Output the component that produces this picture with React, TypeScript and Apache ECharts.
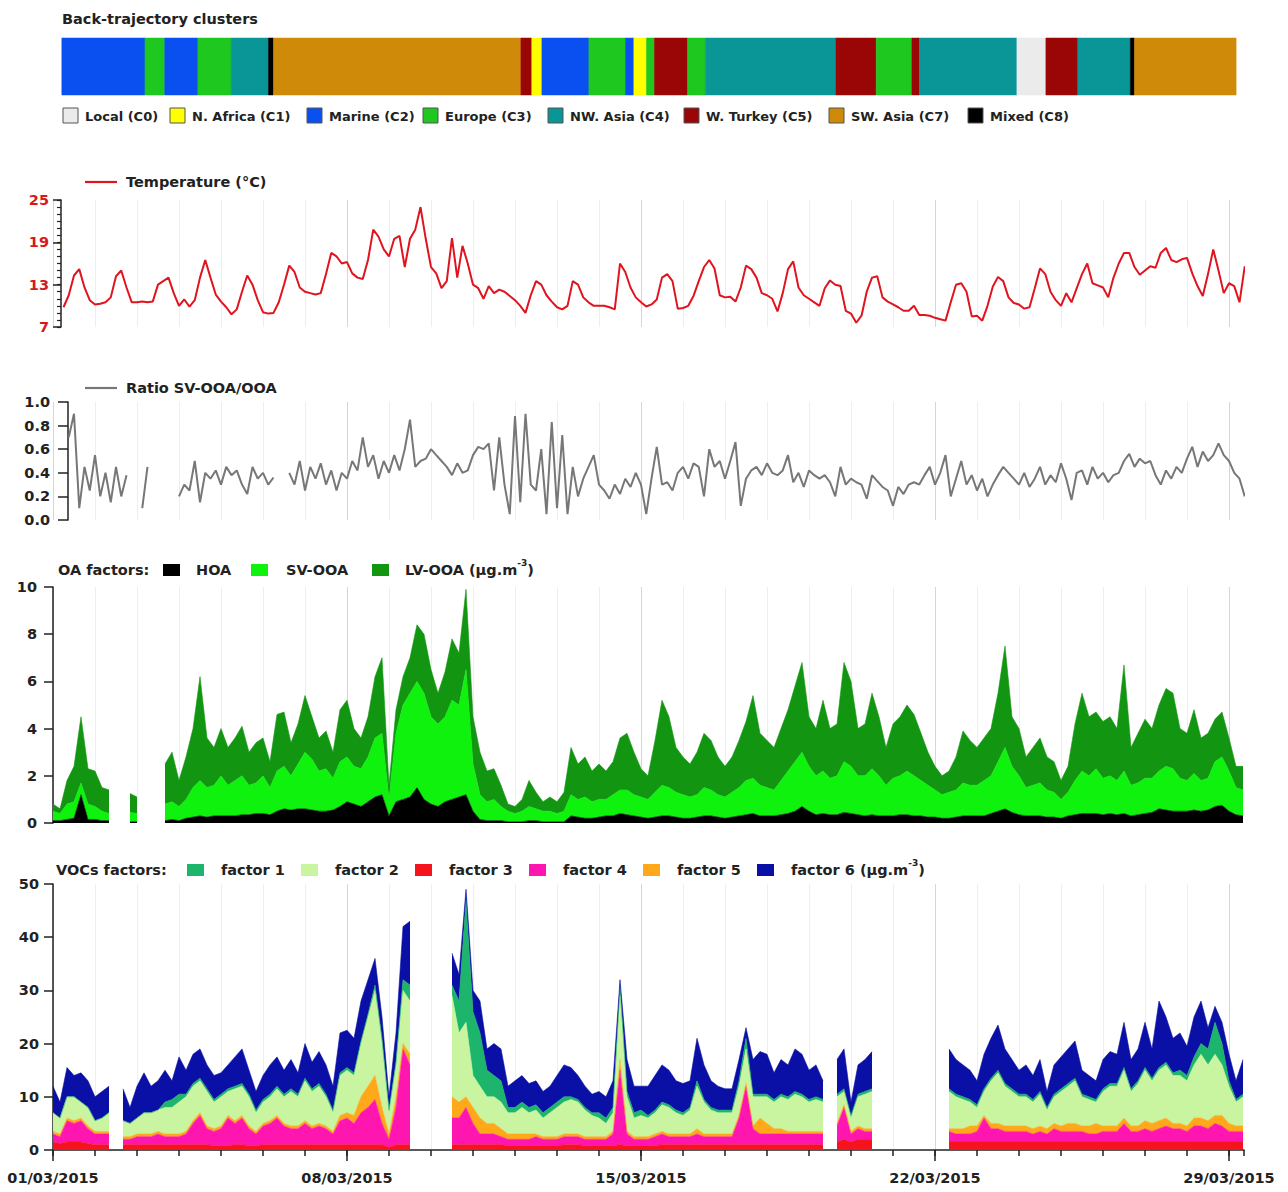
import React, { useEffect, useRef } from 'react';
import * as echarts from 'echarts';

const FONT = 'DejaVu Sans';
const X_MAX = 28.357;
const DAY_MS = 86400000;
const T0_MS = Date.UTC(2015, 2, 1);

// ---- x axis tick labels (every 7 days from 01/03/2015)
const xTickLabels = ['01/03/2015', '08/03/2015', '15/03/2015', '22/03/2015', '29/03/2015'];
const weekTicks = [0, 7, 14, 21, 28];
const tempTicks = [7, 13, 19, 25];

// ---- back-trajectory clusters
const clusterNames = ['Local (C0)', 'N. Africa (C1)', 'Marine (C2)', 'Europe (C3)', 'NW. Asia (C4)', 'W. Turkey (C5)', 'SW. Asia (C7)', 'Mixed (C8)'];
const clusterColors = ['#ebebeb', '#ffff00', '#0a50f0', '#1ec81e', '#0a9696', '#9a0606', '#d08a0a', '#000000'];
const segStart = [0.21, 2.19, 2.66, 3.45, 4.24, 5.13, 5.25, 11.14, 11.40, 11.64, 12.76, 13.63, 13.83, 14.13, 14.32, 15.11, 15.53, 18.64, 19.60, 20.45, 20.63, 22.95, 23.64, 24.40, 25.65, 25.75];
const segEnd = [2.19, 2.66, 3.45, 4.24, 5.13, 5.25, 11.14, 11.40, 11.64, 12.76, 13.63, 13.83, 14.13, 14.32, 15.11, 15.53, 18.64, 19.60, 20.45, 20.63, 22.95, 23.64, 24.40, 25.65, 25.75, 28.17];
const segCluster = [2, 3, 2, 3, 4, 7, 6, 5, 1, 2, 3, 2, 1, 3, 5, 3, 4, 5, 3, 5, 4, 0, 5, 4, 7, 6];

// ---- temperature and ratio: 3-hourly, starting 0.25 day
const tStart = 0.25;
const tStep = 0.125;
const temperature = [
  9.8, 11.5, 14.3, 15.2, 12.6, 10.8,
  10.2, 10.3, 10.5, 11.2, 14.2, 15.0, 12.6, 10.5,
  10.5, 10.6, 10.5, 10.6, 13.0, 13.5, 14.0, 11.8,
  10.0, 10.9, 9.9, 10.8, 14.0, 16.5, 14.0, 11.6,
  10.6, 9.8, 8.8, 9.5, 12.0, 14.3, 13.0, 10.8,
  9.1, 8.9, 9.0, 10.5, 13.0, 15.7, 14.8, 12.6,
  12.0, 11.8, 11.6, 11.8, 14.5, 17.5, 17.0, 16.0,
  16.2, 14.6, 14.0, 13.8, 16.5, 20.8, 19.8, 18.0,
  17.0, 19.5, 19.9, 15.5, 19.5, 20.8, 24.0, 19.5,
  15.5, 14.6, 12.5, 13.5, 19.6, 14.0, 18.5, 16.0,
  13.0, 12.5, 11.0, 12.8, 11.8, 12.3, 12.0, 11.4,
  10.8, 10.0, 9.0, 11.5, 13.5, 13.0, 11.5, 10.6,
  9.8, 9.5, 10.0, 13.5, 13.0, 11.2, 10.5, 10.0,
  10.0, 10.0, 9.8, 9.5, 16.0, 14.8, 12.6, 11.2,
  10.5, 9.9, 10.2, 10.9, 14.0, 14.5, 13.5, 9.6,
  9.7, 10.0, 11.4, 13.5, 15.5, 16.5, 15.3, 11.5,
  11.2, 11.3, 10.6, 12.6, 15.7, 15.2, 14.0, 11.8,
  11.5, 11.0, 9.2, 11.8, 15.2, 16.3, 12.6, 11.5,
  11.0, 10.5, 10.0, 12.5, 13.6, 13.0, 12.8, 9.3,
  8.9, 7.6, 8.6, 12.0, 14.0, 14.2, 11.2, 10.6,
  10.2, 9.8, 9.3, 9.3, 10.0, 8.7, 8.7, 8.6,
  8.3, 8.1, 7.9, 10.5, 13.0, 13.2, 12.0, 8.5,
  8.6, 7.9, 10.0, 12.7, 14.1, 13.5, 11.2, 10.4,
  10.2, 9.6, 9.8, 12.5, 15.3, 14.5, 12.0, 10.8,
  10.0, 11.8, 10.5, 12.5, 14.5, 16.0, 13.2, 12.9,
  12.6, 11.2, 14.0, 16.0, 17.5, 17.5, 15.5, 14.4,
  15.0, 15.6, 15.4, 17.5, 18.2, 16.5, 16.2, 16.6,
  16.8, 14.6, 12.8, 11.4, 14.5, 18.0, 15.0, 11.8,
  13.2, 12.8, 10.5, 15.6,
];
const ratio = [
  null, 0.7, 0.9, 0.1, 0.45, 0.25,
  0.55, 0.2, 0.4, 0.15, 0.45, 0.2, 0.38, null,
  null, 0.1, 0.45, null, null, null, null, null,
  0.2, 0.3, 0.25, 0.5, 0.15, 0.4, 0.35, 0.42,
  0.3, 0.45, 0.38, 0.42, 0.3, 0.22, 0.45, 0.35,
  0.4, 0.3, 0.36, null, null, 0.4, 0.3, 0.5,
  0.25, 0.45, 0.35, 0.48, 0.3, 0.42, 0.25, 0.4,
  0.35, 0.5, 0.42, 0.7, 0.45, 0.55, 0.35, 0.5,
  0.4, 0.55, 0.42, 0.6, 0.85, 0.45, 0.5, 0.52,
  0.6, 0.55, 0.5, 0.45, 0.38, 0.48, 0.4, 0.42,
  0.55, 0.62, 0.6, 0.65, 0.25, 0.7, 0.3, 0.05,
  0.88, 0.15, 0.9, 0.3, 0.25, 0.6, 0.05, 0.83,
  0.1, 0.72, 0.05, 0.45, 0.2, 0.35, 0.45, 0.55,
  0.3, 0.25, 0.18, 0.3, 0.22, 0.35, 0.28, 0.4,
  0.3, 0.05, 0.35, 0.62, 0.3, 0.32, 0.25, 0.4,
  0.45, 0.35, 0.48, 0.45, 0.2, 0.6, 0.45, 0.5,
  0.35, 0.5, 0.66, 0.12, 0.35, 0.42, 0.45, 0.38,
  0.48, 0.4, 0.38, 0.42, 0.55, 0.32, 0.4, 0.28,
  0.42, 0.38, 0.35, 0.38, 0.32, 0.2, 0.45, 0.3,
  0.35, 0.32, 0.3, 0.18, 0.38, 0.33, 0.28, 0.25,
  0.12, 0.28, 0.22, 0.3, 0.32, 0.3, 0.38, 0.45,
  0.3, 0.4, 0.55, 0.2, 0.35, 0.5, 0.3, 0.38,
  0.25, 0.35, 0.2, 0.3, 0.38, 0.45, 0.4, 0.35,
  0.3, 0.4, 0.28, 0.35, 0.45, 0.3, 0.38, 0.32,
  0.48, 0.35, 0.17, 0.4, 0.42, 0.3, 0.45, 0.35,
  0.4, 0.32, 0.38, 0.4, 0.5, 0.56, 0.45, 0.52,
  0.48, 0.5, 0.38, 0.3, 0.42, 0.35, 0.45, 0.4,
  0.52, 0.62, 0.45, 0.58, 0.5, 0.55, 0.65, 0.55,
  0.5, 0.4, 0.35, 0.2,
];

// ---- OA factors: 4-hourly from day 0
const oaStart = 0;
const oaStep = 1 / 6;
const hoa = [
  0.1, 0.1, 0.15, 0.2, 1.2, 0.15,
  0.15, 0.1, 0.1, null, null, 0.05,
  0.05, null, null, null, 0.1, 0.15,
  0.1, 0.2, 0.25, 0.3, 0.25, 0.3,
  0.3, 0.3, 0.3, 0.35, 0.35, 0.4,
  0.4, 0.35, 0.5, 0.6, 0.55, 0.6,
  0.6, 0.55, 0.5, 0.5, 0.55, 0.7,
  0.9, 0.8, 0.7, 0.9, 1.1, 1.2,
  0.3, 0.9, 1.0, 1.1, 1.5, 1.0,
  0.8, 0.7, 0.9, 1.0, 1.1, 1.2,
  0.5, 0.15, 0.1, 0.1, 0.1, 0.05,
  0.05, 0.05, 0.1, 0.1, 0.05, 0.05,
  0.05, 0.05, 0.3, 0.25, 0.2, 0.2,
  0.25, 0.3, 0.3, 0.4, 0.35, 0.3,
  0.25, 0.2, 0.25, 0.3, 0.3, 0.25,
  0.2, 0.2, 0.25, 0.3, 0.3, 0.25,
  0.2, 0.25, 0.3, 0.35, 0.4, 0.3,
  0.3, 0.3, 0.35, 0.4, 0.5, 0.7,
  0.5, 0.35, 0.4, 0.35, 0.35, 0.45,
  0.4, 0.35, 0.3, 0.35, 0.3, 0.3,
  0.3, 0.35, 0.35, 0.3, 0.3, 0.25,
  0.25, 0.2, 0.2, 0.25, 0.3, 0.3,
  0.3, 0.3, 0.4, 0.5, 0.6, 0.45,
  0.35, 0.3, 0.3, 0.3, 0.25, 0.25,
  0.2, 0.3, 0.35, 0.4, 0.4, 0.4,
  0.35, 0.4, 0.35, 0.4, 0.3, 0.35,
  0.4, 0.45, 0.6, 0.55, 0.5, 0.5,
  0.5, 0.55, 0.5, 0.55, 0.7, 0.75,
  0.5, 0.35, 0.3,
];
const svooa = [
  0.4, 0.3, 0.65, 0.7, 0.5, 0.65,
  0.55, 0.4, 0.3, null, null, 0.4,
  0.35, null, null, null, 0.7, 0.75,
  0.6, 0.8, 1.25, 1.5, 1.25, 1.3,
  1.7, 1.3, 1.5, 1.65, 1.25, 1.3,
  1.6, 1.15, 1.7, 1.8, 1.45, 1.9,
  2.4, 2.15, 1.7, 1.8, 1.35, 1.9,
  1.9, 1.6, 1.6, 1.9, 2.5, 2.6,
  0.7, 2.9, 4.0, 4.4, 4.5, 4.5,
  3.7, 3.5, 3.6, 4.2, 3.9, 5.3,
  2.0, 1.05, 0.8, 0.9, 0.6, 0.45,
  0.35, 0.45, 0.6, 0.5, 0.45, 0.45,
  0.35, 0.45, 0.9, 0.75, 0.9, 0.7,
  0.75, 0.7, 0.9, 1.0, 1.05, 0.9,
  0.85, 0.8, 1.05, 1.3, 1.2, 1.05,
  1.0, 0.9, 0.95, 1.2, 1.1, 0.95,
  0.9, 1.05, 1.2, 1.45, 1.5, 1.3,
  1.2, 1.1, 1.45, 1.8, 2.1, 2.3,
  1.9, 1.65, 1.8, 1.55, 1.65, 2.15,
  2.0, 1.65, 1.7, 1.95, 1.7, 1.3,
  1.6, 1.65, 1.85, 1.7, 1.5, 1.35,
  1.15, 1.0, 1.1, 1.15, 1.4, 1.3,
  1.3, 1.5, 1.6, 2.1, 2.6, 1.95,
  1.65, 1.2, 1.3, 1.4, 1.15, 1.05,
  0.8, 1.0, 1.45, 1.8, 1.6, 1.9,
  1.55, 1.6, 1.45, 1.8, 1.3, 1.35,
  1.5, 1.45, 1.6, 1.85, 1.8, 1.4,
  1.3, 1.55, 1.3, 1.35, 1.9, 2.05,
  1.7, 1.15, 1.1,
];
const lvooa = [
  0.3, 0.2, 1.0, 1.5, 2.8, 1.5,
  1.5, 1.0, 1.0, null, null, 0.8,
  0.7, null, null, null, 1.7, 2.1,
  1.1, 1.8, 2.5, 4.4, 2.1, 1.6,
  2.0, 1.6, 1.8, 2.1, 1.4, 1.7,
  1.6, 1.1, 2.4, 2.3, 1.4, 1.7,
  2.4, 1.8, 1.4, 1.6, 1.1, 2.2,
  2.4, 1.6, 1.3, 1.7, 2.6, 3.2,
  0.6, 1.0, 1.2, 1.5, 2.4, 2.5,
  2.0, 1.3, 1.9, 2.6, 2.2, 3.4,
  2.0, 1.8, 1.3, 1.3, 0.9, 0.3,
  0.3, 0.5, 1.1, 0.7, 0.4, 0.6,
  0.5, 0.8, 2.0, 1.5, 1.7, 1.3,
  1.5, 1.2, 1.4, 2.2, 2.4, 1.8,
  1.2, 1.0, 2.2, 3.6, 3.0, 1.9,
  1.6, 1.4, 1.8, 2.3, 2.1, 1.6,
  1.3, 1.5, 2.0, 2.5, 3.5, 2.2,
  2.0, 1.8, 2.2, 2.6, 3.2, 3.8,
  2.1, 2.0, 3.0, 2.1, 2.2, 4.2,
  3.6, 2.0, 2.2, 3.2, 2.5, 1.6,
  2.3, 2.5, 2.8, 2.6, 2.0, 1.4,
  1.0, 0.8, 0.9, 1.4, 2.2, 1.9,
  1.6, 1.8, 2.0, 2.9, 4.3, 2.1,
  2.0, 1.3, 1.6, 1.9, 1.4, 1.3,
  0.8, 1.1, 2.4, 3.3, 2.5, 2.4,
  2.4, 2.5, 2.2, 4.5, 1.6, 2.1,
  2.5, 2.1, 2.8, 3.3, 3.2, 2.1,
  2.0, 2.7, 1.8, 1.9, 1.8, 1.9,
  1.4, 0.9, 1.0,
];

// ---- VOCs factors: 4-hourly from day 0
const vocStart = 0;
const vocStep = 1 / 6;
const N = null;
const vocF3 = [
  1.5, 1.2, 1.5, 1.5, 1.5, 1.2,
  1, 1, 1, N, 1, 1,
  1, 1, 1, 1, 1, 1,
  1, 1, 1, 1, 1, 0.8,
  0.8, 0.8, 1, 1, 0.8, 0.8,
  1, 1, 1, 1, 1, 1,
  1, 1, 1, 1, 1, 1,
  1, 1, 1, 1, 1, 1,
  0.5, 1, 1, 1, N, N,
  N, N, N, 1, 1, 1,
  1, 1, 1, 1, 1, 0.8,
  0.8, 0.8, 0.8, 0.8, 0.8, 0.8,
  0.8, 1, 1, 1, 0.8, 0.8,
  0.8, 0.8, 0.8, 1, 0.8, 0.8,
  0.8, 0.8, 0.8, 1, 1, 1,
  1, 1, 1, 1, 1, 1,
  1, 1, 1, 1, 1, 1,
  1, 1, 1, 1, 1, 1,
  1, 1, 1, N, 1.5, 2,
  1.5, 2, 2, 2, N, N,
  N, N, N, N, N, N,
  N, N, 1.5, 1.5, 1.5, 1.5,
  1.5, 1.5, 1.5, 1.5, 1.5, 1.5,
  1.5, 1.5, 1.5, 1.5, 1.5, 1.5,
  1.5, 1.5, 1.5, 1.5, 1.5, 1.5,
  1.5, 1.5, 1.5, 1.5, 1.5, 1.5,
  1.5, 1.5, 1.5, 1.5, 1.5, 1.5,
  1.5, 1.5, 1.5, 1.5, 1.5, 1.5,
  1.5, 1.5, 1.5,
];
const vocF4 = [
  1.5, 1.3, 4, 3.5, 4, 2.8,
  2, 2, 2, N, 1, 1,
  1.5, 1.5, 1.5, 2, 1.5, 1.5,
  1.5, 2, 4, 5.5, 3, 2.7,
  3.2, 5.2, 4, 5, 3.2, 2.2,
  3.5, 4, 5, 3.5, 3, 3,
  4, 3, 3.5, 3, 2, 4.5,
  5, 4, 6, 7, 8.5, 4,
  1.5, 7, 18, 15, N, N,
  N, N, N, 5, 5, 7,
  4, 2, 2, 2, 1.5, 1.2,
  1.2, 1.2, 1.2, 1.7, 1.2, 1.2,
  1.2, 1.5, 1.5, 1.5, 1.2, 1.2,
  1.2, 1.2, 2.2, 14, 2.2, 1.2,
  1.2, 1.2, 1.7, 2, 1.5, 1.5,
  1.5, 1.5, 2, 1.5, 1.5, 1.5,
  1.5, 1.5, 5, 11, 3, 2,
  2, 2, 2, 2, 2, 2,
  2, 2, 2, N, 3, 6,
  1.5, 2, 1.5, 1.5, N, N,
  N, N, N, N, N, N,
  N, N, 2, 1.5, 1.5, 1.5,
  2, 4.5, 2.5, 2.5, 2, 2,
  2, 2, 1.5, 2, 1.5, 2.5,
  2, 2, 2, 2, 1.5, 1.5,
  2, 2, 2, 3.5, 2, 2,
  2.5, 2, 2.5, 3, 2.5, 2.5,
  2, 3, 3, 2.5, 3.5, 3,
  2, 2, 2,
];
const vocF5 = [
  0.5, 0.5, 0.5, 0.5, 0.5, 0.5,
  0.5, 0.5, 0.5, N, 0.5, 0.5,
  0.5, 0.5, 0.5, 0.5, 0.5, 0.5,
  0.5, 0.5, 0.5, 0.5, 0.5, 0.5,
  0.5, 0.5, 0.5, 0.5, 0.5, 0.5,
  0.5, 0.5, 0.5, 0.5, 0.5, 0.5,
  0.5, 0.5, 0.5, 0.5, 0.5, 1,
  1, 1.5, 3, 4, 4.5, 3,
  1, 2, 1, 2, N, N,
  N, N, N, 4, 3, 2,
  3, 3, 2, 2, 1.5, 1,
  1, 1, 1, 0.5, 0.5, 0.5,
  0.5, 0.5, 0.5, 0.5, 0.5, 0.5,
  0.5, 0.5, 0.5, 2, 0.5, 0.5,
  0.5, 0.5, 0.5, 0.5, 0.5, 0.5,
  0.5, 0.5, 1, 0.5, 0.5, 0.5,
  0.5, 0.5, 0.5, 0.5, 0.5, 3,
  2, 1, 1, 0.5, 0.5, 0.5,
  0.5, 0.5, 0.5, N, 0.5, 0.5,
  0.5, 0.5, 0.5, 0.5, N, N,
  N, N, N, N, N, N,
  N, N, 0.5, 1, 1, 1.5,
  1, 0.5, 1, 1, 1, 1,
  1, 1, 1, 1, 1, 1,
  1, 1.5, 1.5, 1, 1.5, 2,
  1, 1, 1, 1, 1, 1,
  1.5, 1.5, 1.5, 1.5, 1, 1,
  1, 1.5, 1.5, 1.5, 1.5, 2,
  1.5, 1, 1,
];
const vocF2 = [
  3.5, 3, 4, 4.5, 3, 3.5,
  2, 2.5, 3.5, N, 3, 2.5,
  3, 4, 4, 4, 5, 5,
  6, 6.5, 6.5, 6, 6.5, 5,
  5.5, 4.5, 6, 5.5, 5.5, 3.5,
  4, 4.5, 5, 5, 6.5, 5.5,
  7.5, 6.5, 7, 5.5, 3.5, 7.5,
  8, 7.5, 10, 13, 16, 12,
  4, 6, 10, 10, N, N,
  N, N, N, 19, 13, 14,
  6, 6, 5, 5, 5, 4,
  4, 5, 4, 4.5, 3.5, 4.5,
  5.5, 6, 6.5, 6, 5, 4,
  3.5, 2.5, 3.5, 12, 6.5, 3.5,
  4, 3.5, 4, 5, 5, 4,
  3.5, 4.5, 8, 6, 4.5, 4,
  4, 4, 5.5, 6.5, 5.5, 4,
  5, 5, 6, 6, 7, 6.5,
  5.5, 6, 5.5, N, 5, 2.5,
  2.5, 5.5, 6.5, 7, N, N,
  N, N, N, N, N, N,
  N, N, 7, 6, 5.5, 4.5,
  3.5, 4.5, 8, 9.5, 7.5, 6.5,
  5.5, 5.5, 5, 6, 3.5, 5,
  6.5, 7, 8, 5.5, 5, 4,
  6.5, 7.5, 7.5, 9, 6.5, 8,
  9.5, 8, 9.5, 10, 9, 9,
  8.5, 10, 12, 10.5, 11.5, 9.5,
  7, 4.5, 5.5,
];
const vocF1 = [
  0, 0, 0, 0, 0, 0,
  0, 0, 0, N, 0, 0,
  0, 0, 0, 0, 1, 1.5,
  1.5, 0.5, 0.5, 0.5, 0.5, 0.5,
  0.5, 0.5, 0.5, 0.5, 0.5, 0.5,
  0.5, 0.5, 0.5, 0.5, 0.5, 0.5,
  0.5, 0.5, 0.5, 0.5, 0.5, 0.5,
  0.5, 0.5, 0.5, 0.5, 1, 1,
  0.5, 0.5, 2, 3, N, N,
  N, N, N, 2, 6, 23,
  12, 10, 5, 4, 4, 1,
  1, 1, 1, 1, 1, 1,
  1, 1, 0.5, 0.5, 0.5, 0.5,
  1, 1, 1, 2, 1, 1,
  1, 0.5, 0.5, 0.5, 0.5, 0.5,
  0.5, 0.5, 1, 0.5, 0.5, 0.5,
  0.5, 0.5, 1, 2, 0.5, 0.5,
  0.5, 0.5, 0.5, 0.5, 0.5, 0.5,
  0.5, 0.5, 0.5, N, 0.5, 0.5,
  0.5, 0.5, 0.5, 0.5, N, N,
  N, N, N, N, N, N,
  N, N, 0.5, 0.5, 0.5, 0.5,
  0.5, 0.5, 0.5, 0.5, 0.5, 0.5,
  0.5, 0.5, 0.5, 0.5, 0.5, 0.5,
  0.5, 0.5, 0.5, 0.5, 0.5, 0.5,
  0.5, 0.5, 0.5, 0.5, 0.5, 0.5,
  0.5, 0.5, 0.5, 0.5, 0.5, 1,
  1, 1.5, 2, 3, 6, 4,
  1, 0.5, 0.5,
];
const vocF6 = [
  5, 3, 5.5, 4, 5.5, 5,
  4.5, 5, 5, N, 6, 3,
  6, 7.5, 5, 5.5, 6, 3.5,
  7, 4.5, 5.5, 5.5, 4.5, 4.5,
  4, 4.5, 5.5, 6.5, 4.5, 3.5,
  4.5, 5.5, 5.5, 4.5, 5.5, 4,
  6.5, 5, 6, 5.5, 4.5, 7.5,
  7, 6.5, 7.5, 6.5, 5, 4,
  2.5, 5.5, 10, 12, N, N,
  N, N, N, 6, 5, 2,
  4, 6, 4, 6, 6, 4,
  5, 5, 4.5, 4.5, 4, 4,
  5, 6, 5.5, 4.5, 4, 3.5,
  4, 4, 5, 1, 6, 5,
  4.5, 5.5, 6.5, 7, 6.5, 5.5,
  5.5, 5, 8, 6.5, 5, 4.5,
  4, 4, 4, 2, 6.5, 8,
  7.5, 5, 6.5, 6, 8, 7.5,
  5.5, 6, 3.5, N, 6.5, 7.5,
  2.5, 5.5, 6, 7, N, N,
  N, N, N, N, N, N,
  N, N, 7.5, 6.5, 6, 5.5,
  4.5, 6.5, 7.5, 8.5, 6.5, 5.5,
  4.5, 5.5, 4.5, 6, 3, 5.5,
  6, 6.5, 7, 4.5, 4, 3.5,
  5.5, 6, 5.5, 8.5, 5.5, 6,
  8.5, 5.5, 12.5, 8.5, 6.5, 7,
  5.5, 7.5, 8, 4, 3, 4,
  5, 3.5, 6.5,
];

const oaNames = ['HOA', 'SV-OOA', 'LV-OOA'];
const oaColors = ['#000000', '#0ef20e', '#129612'];
const vocNames = ['factor 1', 'factor 2', 'factor 3', 'factor 4', 'factor 5', 'factor 6'];
const vocColors = ['#1cb56b', '#c9f5a0', '#f5141e', '#ff16b0', '#ffa81a', '#0a0fa5'];

const TEXT = '#222222';
const AXIS = '#222222';

// days -> [x, y] pairs (line series on value axes)
const pairs = (arr: (number | null)[], t0: number, step: number) =>
  arr.map((v, i) => [t0 + i * step, v]);
// days -> [time, y] pairs (stacked series on hidden time axes)
const timePairs = (arr: (number | null)[], t0: number, step: number) =>
  arr.map((v, i) => [T0_MS + (t0 + i * step) * DAY_MS, v]);

function txt(x: number, y: number, text: string, size = 14.5, fill = TEXT) {
  return {
    type: 'text', x, y, silent: true,
    style: { text, fill, fontSize: size, fontWeight: 'bold', fontFamily: FONT, align: 'left', verticalAlign: 'middle' },
  };
}
function supTxt(x: number, y: number, main: string) {
  const base = { fontSize: 14.5, fontWeight: 'bold', fontFamily: FONT, fill: TEXT };
  return {
    type: 'text', x, y, silent: true,
    style: {
      text: `{a|${main}}{s|-3}{a|)}`, align: 'left', verticalAlign: 'middle',
      rich: { a: { ...base, lineHeight: 24 }, s: { ...base, fontSize: 9, verticalAlign: 'top' } },
    },
  };
}
function box(x: number, y: number, w: number, h: number, fill: string, stroke?: string) {
  return {
    type: 'rect', silent: true, shape: { x, y, width: w, height: h },
    style: { fill, stroke: stroke || 'none', lineWidth: stroke ? 1 : 0 },
  };
}
function hline(x1: number, x2: number, y: number, color: string) {
  return { type: 'line', silent: true, shape: { x1, y1: y, x2, y2: y }, style: { stroke: color, lineWidth: 2.2 } };
}

function buildOption() {
  const gridColors = ['#d6d6d6', '#eeeeee', '#eeeeee', '#eeeeee', '#eeeeee', '#eeeeee', '#eeeeee'];
  const gl = { left: 53, width: 1191 };
  const grids = [
    { ...gl, top: 38, height: 57 },
    { ...gl, top: 200, height: 127 },
    { ...gl, top: 402, height: 118 },
    { ...gl, top: 587, height: 236 },
    { ...gl, top: 884, height: 266 },
  ];
  const xDaily = (gi: number) => ({
    type: 'value', gridIndex: gi, min: 0, max: X_MAX, interval: 1, position: 'bottom',
    axisLine: { show: false }, axisTick: { show: false }, axisLabel: { show: false },
    splitLine: { show: true, showMaxLine: false, lineStyle: { color: gridColors, width: 1 } },
  });
  const xTimeHidden = (gi: number) => ({
    type: 'time', gridIndex: gi, min: T0_MS, max: T0_MS + X_MAX * DAY_MS, show: false, position: 'bottom',
    axisLine: { show: false }, axisTick: { show: false }, axisLabel: { show: false }, splitLine: { show: false },
  });
  const labelStyle = { fontFamily: FONT, fontWeight: 'bold', fontSize: 14.5, color: TEXT };
  const yBase = (gi: number, min: number, max: number, interval: number | undefined, margin: number, offset = 0) => ({
    type: 'value', gridIndex: gi, min, max, interval, offset, position: 'left',
    axisLine: { show: true, lineStyle: { color: AXIS, width: 1.5 } },
    axisTick: { show: true, length: 9, lineStyle: { color: AXIS, width: 1.5 } },
    axisLabel: { ...labelStyle, margin },
    splitLine: { show: false },
  });

  const xAxis = [
    { type: 'value', gridIndex: 0, min: 0, max: X_MAX, show: false },
    xDaily(1),
    xDaily(2),
    xDaily(3),
    {
      ...xDaily(4),
      axisLine: { show: true, onZero: false, lineStyle: { color: AXIS, width: 1.5 } },
      axisTick: { show: true, length: 6, lineStyle: { color: AXIS, width: 1.5 } },
    },
    {
      type: 'value', gridIndex: 4, min: 0, max: X_MAX, interval: 7, position: 'bottom',
      axisLine: { show: false, onZero: false },
      axisTick: { show: true, length: 11, customValues: weekTicks, lineStyle: { color: AXIS, width: 1.5 } },
      axisLabel: {
        ...labelStyle, margin: 20, customValues: weekTicks,
        formatter: (v: number) => (Math.abs(v / 7 - Math.round(v / 7)) < 1e-6 ? xTickLabels[Math.round(v / 7)] || '' : ''),
      },
      splitLine: { show: false },
    },
    xTimeHidden(3),
    xTimeHidden(4),
  ];

  const tempMain: any = yBase(1, 7, 25, undefined, 12, -8);
  tempMain.axisTick = { show: true, length: 8, customValues: tempTicks, lineStyle: { color: AXIS, width: 1.5 } };
  tempMain.axisLabel = { ...labelStyle, color: '#d7191c', margin: 12, customValues: tempTicks };
  const tempMinor = {
    type: 'value', gridIndex: 1, min: 7, max: 25, interval: 1, offset: -8, position: 'left',
    axisLine: { show: false }, axisLabel: { show: false }, splitLine: { show: false },
    axisTick: { show: true, length: 4, lineStyle: { color: AXIS, width: 1.2 } },
  };
  const ratioAxis: any = yBase(2, 0, 1, 0.2, 18, -15);
  ratioAxis.axisLabel.formatter = (v: number) => v.toFixed(1);
  ratioAxis.axisTick.length = 10;

  const yAxis = [
    { type: 'value', gridIndex: 0, min: 0, max: 1, show: false },
    tempMain,
    tempMinor,
    ratioAxis,
    yBase(3, 0, 10, 2, 16),
    yBase(4, 0, 50, 10, 14),
  ];

  const area = (name: string, data: (number | null)[], color: string, stack: string, xi: number, yi: number, t0: number, step: number) => ({
    name, type: 'line', stack, xAxisIndex: xi, yAxisIndex: yi,
    showSymbol: false, symbol: 'none', connectNulls: false,
    lineStyle: { width: 0.6, color }, areaStyle: { color, opacity: 1 },
    data: timePairs(data, t0, step),
  });

  const series: any[] = [
    {
      type: 'custom', xAxisIndex: 0, yAxisIndex: 0,
      encode: { x: [0, 1] },
      data: segStart.map((s, i) => [s, segEnd[i], segCluster[i]]),
      renderItem: (params: any, api: any) => {
        const s = api.coord([api.value(0), 0]);
        const e = api.coord([api.value(1), 0]);
        const cs = params.coordSys;
        const c = clusterColors[api.value(2)];
        return {
          type: 'rect',
          shape: { x: s[0], y: cs.y, width: e[0] - s[0], height: cs.height },
          style: { fill: c, stroke: c, lineWidth: 0.5 },
        };
      },
    },
    {
      name: 'Temperature', type: 'line', xAxisIndex: 1, yAxisIndex: 1,
      showSymbol: false, symbol: 'none', data: pairs(temperature, tStart, tStep),
      lineStyle: { color: '#e0141e', width: 2 },
    },
    {
      name: 'Ratio', type: 'line', xAxisIndex: 2, yAxisIndex: 3,
      showSymbol: false, symbol: 'none', connectNulls: false, data: pairs(ratio, tStart, tStep),
      lineStyle: { color: '#777777', width: 2 },
    },
    area(oaNames[0], hoa, oaColors[0], 'oa', 6, 4, oaStart, oaStep),
    area(oaNames[1], svooa, oaColors[1], 'oa', 6, 4, oaStart, oaStep),
    area(oaNames[2], lvooa, oaColors[2], 'oa', 6, 4, oaStart, oaStep),
    area(vocNames[2], vocF3, vocColors[2], 'voc', 7, 5, vocStart, vocStep),
    area(vocNames[3], vocF4, vocColors[3], 'voc', 7, 5, vocStart, vocStep),
    area(vocNames[4], vocF5, vocColors[4], 'voc', 7, 5, vocStart, vocStep),
    area(vocNames[1], vocF2, vocColors[1], 'voc', 7, 5, vocStart, vocStep),
    area(vocNames[0], vocF1, vocColors[0], 'voc', 7, 5, vocStart, vocStep),
    area(vocNames[5], vocF6, vocColors[5], 'voc', 7, 5, vocStart, vocStep),
  ];

  // legends (graphic)
  const clBoxX = [63, 170, 307, 423, 548, 684, 829, 968];
  const graphic: any[] = [txt(62, 19, 'Back-trajectory clusters')];
  clusterNames.forEach((n, i) => {
    graphic.push(box(clBoxX[i], 108, 15, 15, clusterColors[i], '#555'));
    graphic.push(txt(clBoxX[i] + 22, 116, n, 13));
  });
  graphic.push(hline(85, 117, 182, '#e0141e'));
  graphic.push(txt(126, 182, 'Temperature (°C)'));
  graphic.push(hline(85, 117, 388, '#777777'));
  graphic.push(txt(126, 388, 'Ratio SV-OOA/OOA'));

  graphic.push(txt(58, 570, 'OA factors:'));
  const oaBoxX = [163, 251, 372];
  const oaTextX = [196, 286, 405];
  oaNames.forEach((n, i) => {
    graphic.push(box(oaBoxX[i], 564, 17, 12, oaColors[i]));
    if (i < 2) graphic.push(txt(oaTextX[i], 570, n));
    else graphic.push(supTxt(oaTextX[i], 570, `${n} (µg.m`));
  });

  graphic.push(txt(56, 870, 'VOCs factors:'));
  vocNames.forEach((n, i) => {
    const bx = 187 + i * 114;
    graphic.push(box(bx, 864, 17, 12, vocColors[i]));
    if (i < 5) graphic.push(txt(bx + 34, 870, n));
    else graphic.push(supTxt(bx + 34, 870, `${n} (µg.m`));
  });

  return {
    animation: false,
    backgroundColor: '#ffffff',
    grid: grids,
    xAxis,
    yAxis,
    series,
    graphic,
  };
}

export default function App() {
  const ref = useRef<HTMLDivElement>(null);
  useEffect(() => {
    const chart = echarts.init(ref.current!, null, { renderer: 'svg' });
    chart.setOption(buildOption() as any);
    return () => chart.dispose();
  }, []);
  return (
    <div
      ref={ref}
      style={{ position: 'absolute', left: 0, top: 0, width: 1288, height: 1192, background: '#fff' }}
    />
  );
}
